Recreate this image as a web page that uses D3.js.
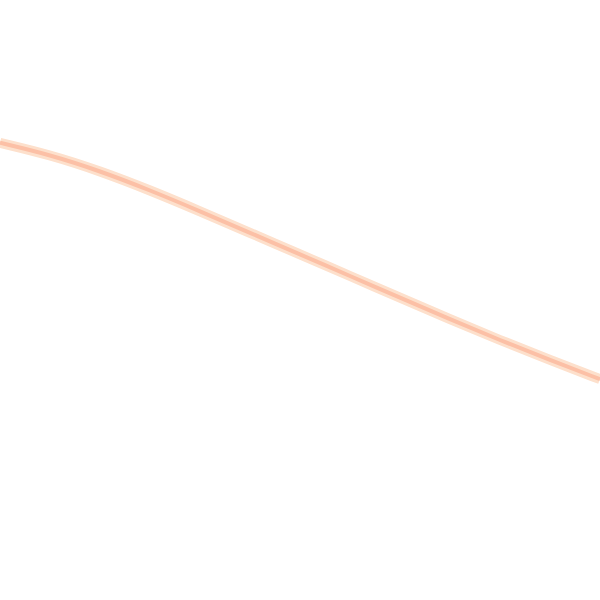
<!DOCTYPE html>
<html>
<head>
<meta charset="utf-8">
<script src="https://cdn.jsdelivr.net/npm/d3@7"></script>
<style>
  html, body { margin: 0; padding: 0; background: #fff; }
  svg { display: block; }
</style>
</head>
<body>
<script>
// steps along the curve and the value at each step (0..100 scale)
var steps = [0, 1, 2, 3, 4, 5, 6, 7, 8, 9, 10, 11, 12];
var values = [76.2, 74.2, 71.5, 68.3, 64.8, 61.2, 57.6, 54.0, 50.4, 46.8, 43.3, 40.0, 36.8];

var width = 600,
    height = 600;

var svg = d3.select('body').append('svg')
    .attr('width', width)
    .attr('height', height);

var xScale = d3.scaleLinear().domain([0, 12]).range([0, width]),
    yScale = d3.scaleLinear().domain([0, 100]).range([height, 0]);

var pts = steps.map(function(s, i) { return [s, values[i]]; });

var line = d3.line()
    .x(function(d) { return xScale(d[0]); })
    .y(function(d) { return yScale(d[1]); })
    .curve(d3.curveBasis);

// soft outer band then the stronger core
svg.append('path')
    .datum(pts)
    .attr('d', line)
    .attr('fill', 'none')
    .attr('stroke', '#fde0cc')
    .attr('stroke-width', 10);

svg.append('path')
    .datum(pts)
    .attr('d', line)
    .attr('fill', 'none')
    .attr('stroke', '#fcc0a6')
    .attr('stroke-width', 4);
</script>
</body>
</html>
